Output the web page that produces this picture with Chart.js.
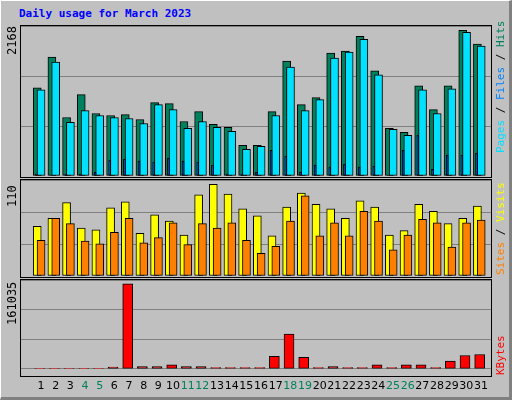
<!DOCTYPE html>
<html>
<head>
<meta charset="utf-8">
<script src="https://cdn.jsdelivr.net/npm/chart.js@4"></script>
<style>
  body { margin: 0; background: #fff; }
  #frame { position: absolute; left: 0; top: 0; width: 508px; height: 396px; background: #c0c0c0;
    border-top: 1px solid #fff; border-left: 1px solid #fff; border-right: 3px solid #808080; border-bottom: 3px solid #808080; }
  .abs { position: absolute; }
  .box { position: absolute; border: 1px solid #000; pointer-events: none; }
  .rot { position: absolute; transform-origin: left top; transform: rotate(-90deg); white-space: nowrap;
    font-family: "DejaVu Sans Mono", monospace; font-size: 11px; }
  #title { left: 19px; top: 7px; font: bold 11px "DejaVu Sans Mono", monospace; color: #0000ff; }
</style>
</head>
<body>
<div id="frame"></div>
<div id="title" class="abs">Daily usage for March 2023</div>

<canvas id="c1" class="abs" style="left:21px;top:26px" width="470" height="150"></canvas>
<canvas id="c2" class="abs" style="left:21px;top:180px" width="470" height="96"></canvas>
<canvas id="c3" class="abs" style="left:21px;top:280px" width="470" height="116"></canvas>
<div class="box" style="left:20px;top:25px;width:470px;height:151px"></div>
<div class="box" style="left:20px;top:179px;width:470px;height:97px"></div>
<div class="box" style="left:20px;top:279px;width:470px;height:96px"></div>

<div class="rot" style="left:5px;top:55px;font-size:12px">2168</div>
<div class="rot" style="left:5px;top:207px;font-size:12px">110</div>
<div class="rot" style="left:5px;top:325px;font-size:12px">161035</div>

<div class="rot" style="left:494px;top:153px"><span style="color:#00e0ff">Pages</span> <span style="color:#000">/</span> <span style="color:#0080ff">Files</span> <span style="color:#000">/</span> <span style="color:#00805c">Hits</span></div>
<div class="rot" style="left:494px;top:275px"><span style="color:#ff8000">Sites</span> <span style="color:#000">/</span> <span style="color:#ffff00">Visits</span></div>
<div class="rot" style="left:494px;top:375px"><span style="color:#ff0000">KBytes</span></div>

<script>
const days = Array.from({ length: 31 }, (_, i) => i + 1);
const weekend = [4, 5, 11, 12, 18, 19, 25, 26];

const hits = [1275, 1719, 845, 1175, 903, 874, 888, 817, 1060, 1046, 788, 931, 745, 702, 444, 444,
  931, 1662, 1031, 1132, 1776, 1805, 2020, 1519, 688, 630, 1304, 960, 1304, 2106, 1905];
const files = [1246, 1648, 774, 946, 874, 845, 831, 759, 1031, 960, 688, 788, 702, 645, 387, 430,
  874, 1576, 946, 1103, 1705, 1791, 1977, 1461, 673, 587, 1246, 903, 1261, 2077, 1877];
const pages = [29, 14, 29, 29, 57, 229, 244, 215, 201, 258, 215, 201, 158, 29, 29, 57,
  372, 287, 57, 158, 129, 172, 129, 143, 14, 372, 587, 100, 301, 301, 330];

const visits = [57, 66, 84, 55, 53, 78, 85, 49, 70, 63, 47, 93, 105, 94, 77, 69,
  46, 79, 95, 82, 77, 66, 86, 79, 47, 52, 82, 74, 60, 66, 80];
const sites = [41, 66, 60, 40, 37, 50, 66, 38, 44, 61, 36, 60, 55, 61, 41, 26,
  34, 63, 92, 46, 61, 46, 74, 63, 30, 47, 65, 61, 33, 61, 64];

const kbytes = [900, 900, 900, 900, 900, 3000, 154300, 3900, 3900, 7300, 3900, 3900, 2250, 2250, 2250, 2250,
  22500, 63000, 20800, 2250, 3900, 2250, 2250, 7300, 2250, 7300, 7300, 2250, 14000, 24200, 25900];

const scaleMax = [2168, 110, 161035];

function pts(arr, off) {
  return arr.map((v, i) => ({ x: days[i] + off, y: v }));
}

function bar(data, color, width, order) {
  return {
    data: data, backgroundColor: color, borderColor: "#000", borderWidth: 1,
    borderSkipped: false, barThickness: width, grouped: false, order: order
  };
}

function opts(max, showX) {
  return {
    responsive: false, animation: false,
    layout: { padding: 0 },
    plugins: { legend: { display: false }, tooltip: { enabled: false } },
    scales: {
      x: {
        type: "linear", min: 0.5, max: 31.5, display: showX,
        grid: { display: false }, border: { display: false },
        afterBuildTicks: (ax) => { ax.ticks = days.map(v => ({ value: v + 0.35 })); },
        ticks: {
          autoSkip: false, maxRotation: 0, padding: 3,
          font: { family: "DejaVu Sans", size: 11 },
          callback: (v) => Math.round(v),
          color: (c) => weekend.includes(Math.round(c.tick.value)) ? "#00805c" : "#000"
        }
      },
      y: {
        min: 0, max: max, afterBuildTicks: (ax) => { ax.ticks = [0, max / 3, max * 2 / 3, max].map(v => ({ value: v })); },
        ticks: { display: false }, border: { display: false },
        grid: { color: "#808080", drawTicks: false, lineWidth: 1 }
      }
    }
  };
}

new Chart(document.getElementById("c1"), {
  type: "bar",
  data: {
    datasets: [
      bar(pts(pages, 0.03), "#0040ff", 2, 0),
      bar(pts(files, 0.35), "#00e0ff", 8, 1),
      bar(pts(hits, 0.09), "#00805c", 8, 2)
    ]
  },
  options: opts(scaleMax[0], false)
});

new Chart(document.getElementById("c2"), {
  type: "bar",
  data: {
    datasets: [
      bar(pts(sites, 0.35), "#ff8000", 8, 1),
      bar(pts(visits, 0.09), "#ffff00", 8, 2)
    ]
  },
  options: opts(scaleMax[1], false)
});

new Chart(document.getElementById("c3"), {
  type: "bar",
  data: { datasets: [bar(pts(kbytes, 0.26), "#ff0000", 10, 0)] },
  options: opts(scaleMax[2], true)
});
</script>
</body>
</html>
